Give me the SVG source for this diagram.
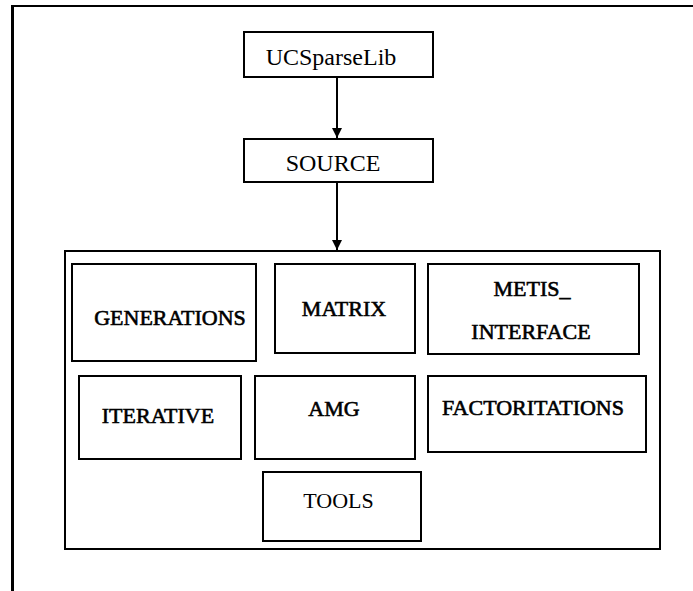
<svg xmlns="http://www.w3.org/2000/svg" width="693" height="591" viewBox="0 0 693 591">
  <defs>
    <marker id="arr" viewBox="0 0 10 10" refX="10" refY="5" markerWidth="10" markerHeight="10" markerUnits="userSpaceOnUse" orient="auto">
      <path d="M0,0 L10,5 L0,10 Z" fill="#000"/>
    </marker>
  </defs>
  <style>
    .box { fill: #fff; stroke: #000; stroke-width: 2; }
    text { font-family: 'Liberation Serif', 'Tinos', 'DejaVu Serif', serif; fill: #000; text-anchor: middle; }
    .t { font-size: 24px; }
    .s { font-size: 22px; }
    .h { stroke: #000; stroke-width: 0.6; }
    .c { stroke: #000; stroke-width: 2; fill: none; }
  </style>
  <rect width="693" height="591" fill="#fff"/>
  <g id="frame">
    <line x1="12" y1="6" x2="693" y2="6" stroke="#000" stroke-width="2"/>
    <line x1="12.5" y1="5" x2="12.5" y2="591" stroke="#000" stroke-width="3"/>
  </g>
  <g id="container">
    <rect class="box" x="65" y="251" width="595" height="298"/>
  </g>
  <g id="ucsparselib">
    <rect class="box" x="244" y="32" width="189" height="45"/>
    <text class="t" x="331" y="65" font-family="Liberation Serif, serif">UCSparseLib</text>
  </g>
  <g id="source">
    <rect class="box" x="244" y="139" width="189" height="43"/>
    <text class="t" x="333" y="171" font-family="Liberation Serif, serif">SOURCE</text>
  </g>
  <g id="generations">
    <rect class="box" x="72" y="264" width="184" height="97"/>
    <text class="s h" x="170" y="325" font-family="Liberation Serif, serif">GENERATIONS</text>
  </g>
  <g id="matrix">
    <rect class="box" x="275" y="264" width="140" height="89"/>
    <text class="s h" x="344" y="316" font-family="Liberation Serif, serif">MATRIX</text>
  </g>
  <g id="metis_interface">
    <rect class="box" x="428" y="264" width="211" height="90"/>
    <text class="s h" x="532" y="296" font-family="Liberation Serif, serif">METIS_</text>
    <text class="s h" x="531" y="339" font-family="Liberation Serif, serif">INTERFACE</text>
  </g>
  <g id="iterative">
    <rect class="box" x="79" y="376" width="162" height="83"/>
    <text class="s h" x="158" y="423" font-family="Liberation Serif, serif">ITERATIVE</text>
  </g>
  <g id="amg">
    <rect class="box" x="255" y="376" width="160" height="83"/>
    <text class="s h" x="334" y="416" font-family="Liberation Serif, serif">AMG</text>
  </g>
  <g id="factoritations">
    <rect class="box" x="428" y="376" width="218" height="76"/>
    <text class="s h" x="533" y="415" font-family="Liberation Serif, serif">FACTORITATIONS</text>
  </g>
  <g id="tools">
    <rect class="box" x="263" y="472" width="158" height="69"/>
    <text class="s" x="338.5" y="508" font-family="Liberation Serif, serif">TOOLS</text>
  </g>
  <g id="connectors">
    <line class="c" x1="337" y1="77" x2="337" y2="138" marker-end="url(#arr)"/>
    <line class="c" x1="337" y1="182" x2="337" y2="250" marker-end="url(#arr)"/>
  </g>
</svg>
